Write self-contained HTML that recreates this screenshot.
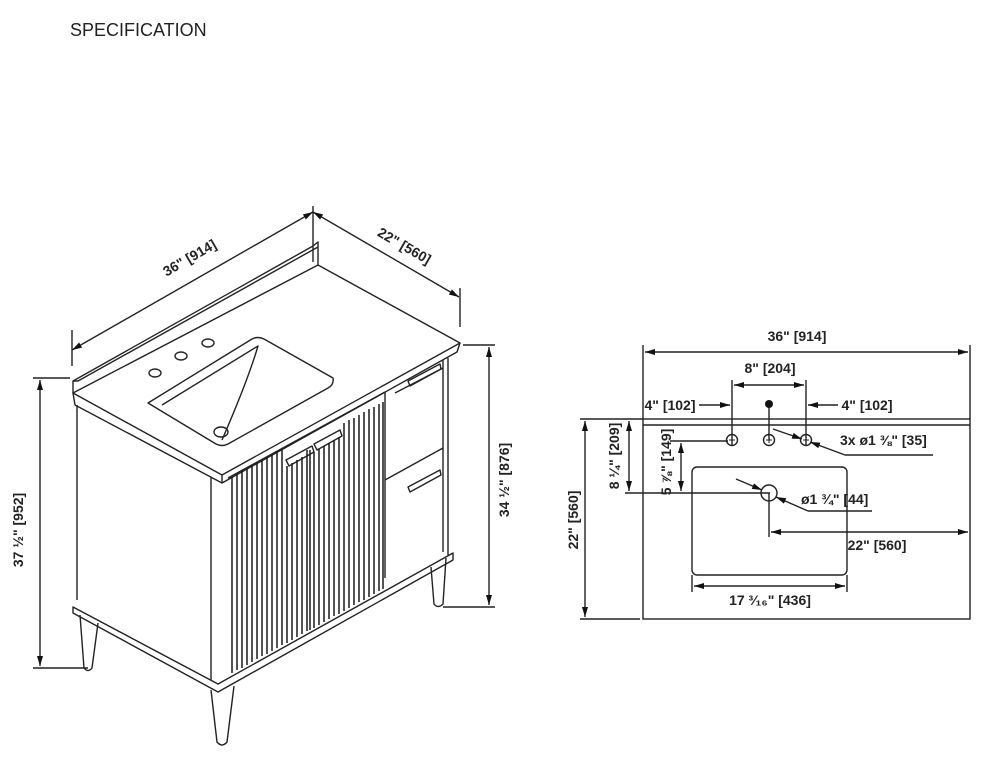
<!DOCTYPE html>
<html><head><meta charset="utf-8"><style>
html,body{margin:0;padding:0;background:#fff}
svg{display:block}
text{font-family:"Liberation Sans",Arial,sans-serif;font-weight:bold;fill:#222}
</style></head><body>
<svg width="990" height="764" viewBox="0 0 990 764" xmlns="http://www.w3.org/2000/svg">
<defs>
<marker id="a" viewBox="0 0 10 6" refX="10" refY="3" markerWidth="10" markerHeight="6" orient="auto-start-reverse" markerUnits="userSpaceOnUse"><path d="M0,0L10,3L0,6z" fill="#111"/></marker>
</defs>
<text x="70" y="36" font-size="18" style="font-weight:normal" fill="#222">SPECIFICATION</text>

<g stroke="#222" stroke-width="1.4" fill="none" stroke-linejoin="round">
<path d="M73,393 L73,381 L313,246 L318,242 L318,265"/>
<path d="M73,381 L78,381 L318,247"/>
<path d="M73,393 L318,265 L460,343 L222,475 Z" fill="#fff"/>
<path d="M73,393 L75,405 L222,483 L457,352 L460,343"/>
<path d="M222,475 L222,483"/>
<path d="M77,405 L77,600"/>
<path d="M211,477 L211,688"/>
<path d="M448,358 L448,555"/>
<path d="M443,360 L443,552"/>
<path d="M73,607 L218,684 L453,553 L453,560 L218,692 L73,613 Z" fill="#fff"/>
<path d="M228,478 L385,392"/>
<path d="M385,392 L385,578"/>
<path d="M385,480 L443,448"/>
<path d="M395,393 L443,368"/>
<path d="M148,403 L252,339 Q258,336 264,339 L333,378 Q334,385 328,388 L228,444 Q222,447 216,444 Z"/>
<path d="M162,405 L258,346 Q248,380 222,440"/>
<ellipse cx="155" cy="373" rx="6" ry="4"/>
<ellipse cx="181" cy="356" rx="6" ry="4"/>
<ellipse cx="208" cy="343" rx="6" ry="4"/>
<ellipse cx="221" cy="432" rx="7" ry="5"/>
<path d="M286,460 L312,446 L314,452 L289,466 Z"/>
<path d="M314,444 L340,430 L342,436 L317,450 Z"/>
<path d="M408,381 L440,364 L441,369 L410,386 Z"/>
<path d="M408,487 L440,470 L441,475 L410,492 Z"/>
<path d="M80,615 L84,668 Q88,673 92,668 L98,623"/>
<path d="M211,690 L217,742 Q222,748 227,742 L234,686"/>
<path d="M431,567 L434,604 Q438,609 443,604 L446,558"/>
<path d="M72,330 L72,366"/><path d="M313,206 L313,262"/><path d="M460,288 L460,327"/>
<path d="M72,350 L313,212" marker-start="url(#a)" marker-end="url(#a)"/>
<path d="M313,212 L459,297" marker-start="url(#a)" marker-end="url(#a)"/>
<path d="M33,378 L70,378"/><path d="M33,668 L88,668"/>
<path d="M40,380 L40,666" marker-start="url(#a)" marker-end="url(#a)"/>
<path d="M463,345 L495,345"/><path d="M443,607 L495,607"/>
<path d="M489,347 L489,605" marker-start="url(#a)" marker-end="url(#a)"/>
</g>
<g stroke="#1a1a1a" stroke-width="1.5">
<line x1="232" y1="477" x2="232" y2="673"/><line x1="237" y1="474" x2="237" y2="670"/>
<line x1="242" y1="471" x2="242" y2="668"/><line x1="247" y1="469" x2="247" y2="665"/>
<line x1="252" y1="466" x2="252" y2="662"/><line x1="257" y1="463" x2="257" y2="659"/>
<line x1="262" y1="461" x2="262" y2="656"/><line x1="267" y1="458" x2="267" y2="654"/>
<line x1="272" y1="455" x2="272" y2="651"/><line x1="277" y1="452" x2="277" y2="648"/>
<line x1="282" y1="450" x2="282" y2="645"/><line x1="287" y1="466" x2="287" y2="643"/>
<line x1="292" y1="463" x2="292" y2="640"/><line x1="297" y1="460" x2="297" y2="637"/>
<line x1="302" y1="457" x2="302" y2="634"/><line x1="307" y1="450" x2="307" y2="631"/>
<line x1="310" y1="450" x2="310" y2="630"/>
<line x1="314" y1="452" x2="314" y2="628"/><line x1="319" y1="449" x2="319" y2="625"/>
<line x1="324" y1="446" x2="324" y2="622"/><line x1="329" y1="443" x2="329" y2="619"/>
<line x1="334" y1="440" x2="334" y2="616"/><line x1="339" y1="437" x2="339" y2="614"/>
<line x1="344" y1="423" x2="344" y2="611"/><line x1="349" y1="420" x2="349" y2="608"/>
<line x1="354" y1="418" x2="354" y2="605"/><line x1="359" y1="415" x2="359" y2="602"/>
<line x1="364" y1="412" x2="364" y2="600"/><line x1="369" y1="409" x2="369" y2="597"/>
<line x1="374" y1="407" x2="374" y2="594"/><line x1="379" y1="404" x2="379" y2="591"/>
<line x1="383" y1="402" x2="383" y2="589"/>
</g>
<text font-size="14" transform="translate(192,262) rotate(-30)" text-anchor="middle">36" [914]</text>
<text font-size="14" transform="translate(402,250) rotate(30)" text-anchor="middle">22" [560]</text>
<text font-size="14" transform="translate(23,530) rotate(-90)" text-anchor="middle">37 ½" [952]</text>
<text font-size="14" transform="translate(509,480) rotate(-90)" text-anchor="middle">34 ½" [876]</text>

<g stroke="#222" stroke-width="1.4" fill="none">
<rect x="643" y="419" width="327" height="200"/>
<line x1="643" y1="425" x2="970" y2="425"/>
<path d="M643,345 L643,419"/><path d="M970,345 L970,419"/>
<path d="M645,352 L968,352" marker-start="url(#a)" marker-end="url(#a)"/>
<path d="M732,380 L732,446"/><path d="M806,380 L806,446"/>
<path d="M734,385 L804,385" marker-start="url(#a)" marker-end="url(#a)"/>
<path d="M699,405 L730,405" marker-end="url(#a)"/>
<path d="M838,405 L808,405" marker-end="url(#a)"/>
<circle cx="732" cy="440" r="5.5"/><circle cx="769" cy="440" r="5.5"/><circle cx="806" cy="440" r="5.5"/>
<path d="M769,404 L769,440"/>
<path d="M773,429 L802,439" marker-end="url(#a)"/>
<path d="M845,455 L810,442" marker-end="url(#a)"/>
<path d="M845,455 L933,455"/>
<rect x="692" y="467" width="155" height="108" rx="5"/>
<circle cx="769" cy="493" r="8"/>
<path d="M736,479 L762,490" marker-end="url(#a)"/>
<path d="M808,511 L776,497" marker-end="url(#a)"/>
<path d="M808,511 L872,511"/>
<path d="M625,493 L770,493"/>
<path d="M769,493 L769,537"/>
<path d="M771,532 L968,532" marker-start="url(#a)" marker-end="url(#a)"/>
<path d="M670,441 L728,441"/>
<path d="M629,421 L629,491" marker-start="url(#a)" marker-end="url(#a)"/>
<path d="M681,443 L681,491" marker-start="url(#a)" marker-end="url(#a)"/>
<path d="M692,575 L692,592"/><path d="M847,575 L847,592"/>
<path d="M694,586 L845,586" marker-start="url(#a)" marker-end="url(#a)"/>
<path d="M580,419 L643,419"/><path d="M580,619 L640,619"/>
<path d="M585,421 L585,617" marker-start="url(#a)" marker-end="url(#a)"/>
</g>
<circle cx="769" cy="404" r="4" fill="#111"/>
<g stroke="#222" stroke-width="1"><path d="M769,437 v6 M766,440 h6 M732,437 v6 M729,440 h6 M806,437 v6 M803,440 h6"/></g>
<text font-size="14" x="797" y="341" text-anchor="middle">36" [914]</text>
<text font-size="14" x="770" y="373" text-anchor="middle">8" [204]</text>
<text font-size="14" x="670" y="410" text-anchor="middle">4" [102]</text>
<text font-size="14" x="867" y="410" text-anchor="middle">4" [102]</text>
<text font-size="14" x="840" y="445">3x ø1 ⅜" [35]</text>
<text font-size="14" x="801" y="504">ø1 ¾" [44]</text>
<text font-size="14" x="877" y="550" text-anchor="middle">22" [560]</text>
<text font-size="14" x="770" y="605" text-anchor="middle">17 ³⁄₁₆" [436]</text>
<text font-size="14" transform="translate(619,456) rotate(-90)" text-anchor="middle">8 ¼" [209]</text>
<text font-size="14" transform="translate(671,462) rotate(-90)" text-anchor="middle">5 ⅞" [149]</text>
<text font-size="14" transform="translate(578,520) rotate(-90)" text-anchor="middle">22" [560]</text>
</svg>
</body></html>
